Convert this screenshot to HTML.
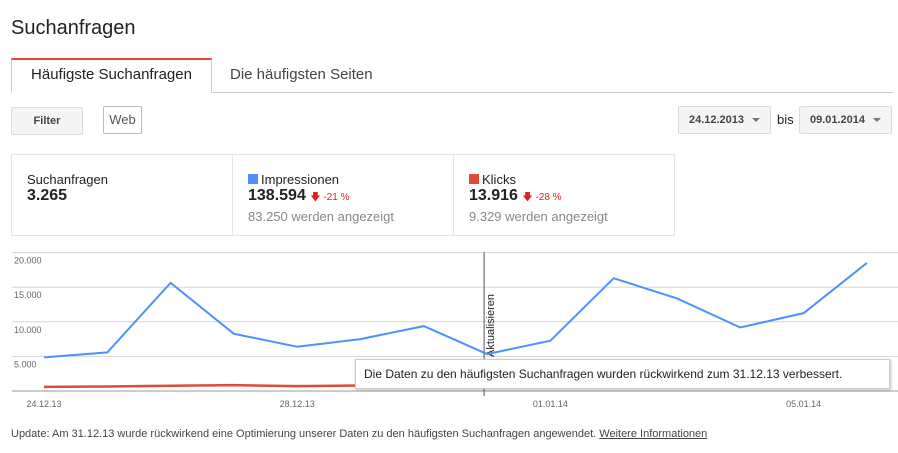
<!DOCTYPE html>
<html><head><meta charset="utf-8">
<style>
body{margin:0;width:898px;height:453px;background:#fff;font-family:"Liberation Sans",Arial,sans-serif;position:relative;overflow:hidden;color:#222}
.abs{position:absolute}
.btn{position:absolute;background:#f5f5f5;border:1px solid #dcdcdc;border-radius:2px;font-size:11px;font-weight:bold;color:#444;text-align:center;box-sizing:border-box}
.caret{display:inline-block;width:0;height:0;border-left:4px solid transparent;border-right:4px solid transparent;border-top:4px solid #777;margin-left:8px;vertical-align:middle}
.card{position:absolute;top:154px;height:82px;border:1px solid #e5e5e5;box-sizing:border-box;padding:17px 0 0 15px}
.lbl{font-size:13px;color:#222}
.big{font-size:16px;font-weight:bold;color:#222}
.sub{font-size:13px;color:#888;margin-top:2px}
.chg{font-size:10px;color:#dd2222;font-weight:normal}
</style></head><body>
<div class="abs" style="left:11px;top:17px;font-size:20px;color:#222">Suchanfragen</div>
<div class="abs" style="left:11px;top:92px;width:882px;height:1px;background:#ccc"></div>
<div class="abs" style="left:11px;top:58px;width:201px;height:35px;background:#fff;border:1px solid #ccc;border-bottom:1px solid #fff;border-top:2px solid #dd4b39;box-sizing:border-box;font-size:15px;text-align:center;line-height:30px;color:#222">Häufigste Suchanfragen</div>
<div class="abs" style="left:230px;top:66px;font-size:15px;color:#444">Die häufigsten Seiten</div>
<div class="btn" style="left:11px;top:107px;width:72px;height:28px;line-height:26px">Filter</div>
<div class="abs" style="left:103px;top:106px;width:39px;height:28px;border:1px solid #bbb;border-radius:2px;box-sizing:border-box;font-size:13px;color:#555;text-align:center;line-height:26px">Web</div>
<div class="btn" style="left:678px;top:106px;width:93px;height:28px;line-height:26px">24.12.2013<span class="caret"></span></div>
<div class="abs" style="left:777px;top:112px;font-size:13px">bis</div>
<div class="btn" style="left:799px;top:106px;width:93px;height:28px;line-height:26px">09.01.2014<span class="caret"></span></div>

<div class="card" style="left:11px;width:222px"><div class="lbl">Suchanfragen</div><div class="big">3.265</div></div>
<div class="card" style="left:232px;width:222px"><div class="lbl"><span style="display:inline-block;width:10px;height:10px;background:#4d90fe;margin-right:3px"></span>Impressionen</div><div class="big">138.594 <span class="chg">&#129095; -21 %</span></div><div class="sub">83.250 werden angezeigt</div></div>
<div class="card" style="left:453px;width:222px"><div class="lbl"><span style="display:inline-block;width:10px;height:10px;background:#dd4b39;margin-right:3px"></span>Klicks</div><div class="big">13.916 <span class="chg">&#129095; -28 %</span></div><div class="sub">9.329 werden angezeigt</div></div>

<svg class="abs" style="left:0;top:240px" width="898" height="170" id="chart"></svg>

<div class="abs" style="left:355px;top:359px;width:535px;height:30px;background:#fff;border:1px solid #ccc;box-shadow:1px 1px 3px rgba(0,0,0,.25);box-sizing:border-box;font-size:12px;line-height:28px;padding-left:8px">Die Daten zu den häufigsten Suchanfragen wurden rückwirkend zum 31.12.13 verbessert.</div>

<div class="abs" style="left:11px;top:428px;font-size:11px;color:#444">Update: Am 31.12.13 wurde rückwirkend eine Optimierung unserer Daten zu den häufigsten Suchanfragen angewendet. <span style="text-decoration:underline">Weitere Informationen</span></div>

<script>
const categories=["24.12.13","25.12.13","26.12.13","27.12.13","28.12.13","29.12.13","30.12.13","31.12.13","01.01.14","02.01.14","03.01.14","04.01.14","05.01.14","06.01.14"];
const impressions=[4860,5580,15630,8270,6390,7500,9380,5340,7260,16300,13370,9180,11250,18510];
const clicks=[600,650,750,850,700,800,750,700,800,900,800,750,900,1000];
const yTicks=[5000,10000,15000,20000];
const yTickLabels=["5.000","10.000","15.000","20.000"];
const xTickIdx=[0,4,8,12];
const annotationIdx=7;
const svg=document.getElementById('chart');
const NS='http://www.w3.org/2000/svg';
const x0=44,dx=63.3,yBase=151,pxPer=34.6/5000;
const X=i=>x0+i*dx;
const Y=v=>yBase-v*pxPer;
function mk(t,a){const e=document.createElementNS(NS,t);for(const k in a)e.setAttribute(k,a[k]);svg.appendChild(e);return e;}
yTicks.forEach((v,i)=>{
 const l=mk('line',{x1:12,x2:898,y1:Y(v),y2:Y(v),stroke:'#d6d6d6','stroke-width':1});
 
 
 const t=mk('text',{x:14,y:Y(v)+11,'font-size':9,fill:'#666','font-family':'Liberation Sans, sans-serif'});
 t.textContent=yTickLabels[i];
 
 
});
const ax=mk('line',{x1:12,x2:898,y1:yBase,y2:yBase,stroke:'#999','stroke-width':1});


xTickIdx.forEach(i=>{
 const t=mk('text',{x:X(i),y:yBase+16,'font-size':9,fill:'#666','text-anchor':'middle','font-family':'Liberation Sans, sans-serif'});
 t.textContent=categories[i];
 
 
});
const ann=mk('line',{x1:X(annotationIdx)-3,x2:X(annotationIdx)-3,y1:12,y2:yBase+5,stroke:'#555','stroke-width':1});


const at=mk('text',{x:0,y:0,'font-size':11,fill:'#222','font-family':'Liberation Sans, sans-serif',transform:`translate(${X(annotationIdx)+7},${yBase-34}) rotate(-90)`});
at.textContent='Aktualisieren';


function line(vals,color,name,w){
 const p=mk('polyline',{points:vals.map((v,i)=>X(i)+','+Y(v)).join(' '),fill:'none',stroke:color,'stroke-width':w});
 
 
}
line(clicks,'#dd4b39','clicks-line',2.5);
line(impressions,'#4d90fe','impressions-line',2);
</script>
</body></html>
